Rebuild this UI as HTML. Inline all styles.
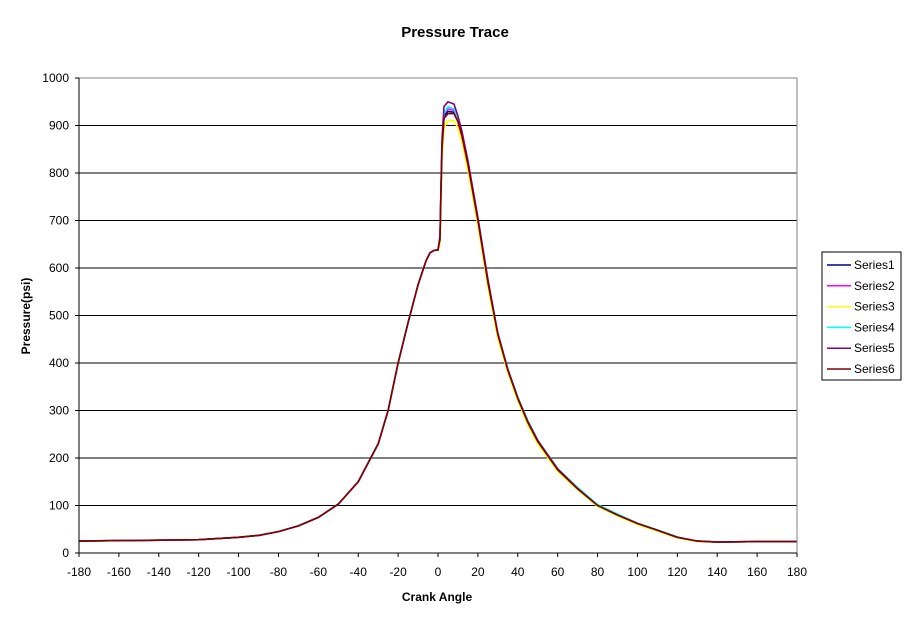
<!DOCTYPE html>
<html><head><meta charset="utf-8"><style>
body{margin:0;background:#fff;width:911px;height:623px;overflow:hidden;font-family:"Liberation Sans",Arial,sans-serif}
</style></head><body>
<svg id="chart" width="911" height="623" xmlns="http://www.w3.org/2000/svg" font-family="Liberation Sans, Arial, sans-serif">
<text x="455" y="37" text-anchor="middle" font-size="15" font-weight="bold">Pressure Trace</text>
<g id="grid"></g>
<g id="series"></g>
<rect x="79" y="78" width="718" height="475" fill="none" stroke="#808080" stroke-width="1"/>
<g id="axes"></g>
<text x="437" y="601" text-anchor="middle" font-size="12" font-weight="bold">Crank Angle</text>
<text x="30" y="316" text-anchor="middle" font-size="12" font-weight="bold" transform="rotate(-90 30 316)">Pressure(psi)</text>
<g id="legend">
<rect x="822" y="252" width="79" height="128" fill="#fff" stroke="#000" stroke-width="1"/>
</g>
</svg>
<script>
const angles = [-180,-160,-140,-120,-100,-90,-80,-70,-60,-50,-40,-30,-25,-20,-15,-10,-6,-4,-2,0,1,1.5,2,3,5,8,10,12,15,20,25,30,35,40,45,50,60,70,80,90,100,110,120,130,140,160,180];
const series1 = [25,26,27,28,33,37,45,57,75,103,150,230,300,400,485,565,615,632,637,638,660,760,850,920,930,928,910,880,820,700,570,460,385,325,275,235,175,135,100,80,62,48,33,25,23,24,24];
const series2 = [25,26,27,28,33,37,45,57,75,103,150,230,300,400,485,565,615,632,637,638,665,770,860,925,935,932,915,885,825,705,575,462,387,327,277,237,177,137,101,81,63,48,33,25,23,24,24];
const series3 = [25,26,27,28,33,37,45,57,75,103,150,230,300,400,485,565,615,632,637,638,650,740,830,895,910,910,895,865,805,690,560,452,380,320,270,230,172,133,98,78,60,46,32,24,23,24,24];
const series4 = [25,26,27,28,33,37,45,57,75,103,150,230,300,400,485,565,615,632,637,638,662,765,855,925,940,935,915,882,822,702,572,463,388,328,279,238,178,138,102,82,63,49,34,25,23,24,24];
const series5 = [25,26,27,28,33,37,45,57,75,103,150,230,300,400,485,565,615,632,637,638,668,775,870,940,950,945,920,888,826,706,576,463,387,327,277,237,177,136,100,80,62,48,33,25,23,24,24];
const series6 = [25,26,27,28,33,37,45,57,75,103,150,230,300,400,485,565,615,632,637,638,660,760,850,915,925,925,908,878,818,700,570,460,385,325,275,235,175,135,100,80,62,48,33,25,23,24,24];
const seriesNames = ["Series1","Series2","Series3","Series4","Series5","Series6"];
const seriesColors = ["#000080","#ff00ff","#ffff00","#00ffff","#800080","#800000"];
const allSeries = [series1,series2,series3,series4,series5,series6];
const xTicks = [-180,-160,-140,-120,-100,-80,-60,-40,-20,0,20,40,60,80,100,120,140,160,180];
const yTicks = [0,100,200,300,400,500,600,700,800,900,1000];

const NS="http://www.w3.org/2000/svg";
const X0=79,X1=797,Y0=553,Y1=78;
function xs(v){return X0+(v+180)/360*(X1-X0);}
function ys(v){return Y0-v/1000*(Y0-Y1);}
function mk(tag,attrs,parent){const e=document.createElementNS(NS,tag);for(const k in attrs)e.setAttribute(k,attrs[k]);parent.appendChild(e);return e;}
const grid=document.getElementById('grid'),axes=document.getElementById('axes'),sg=document.getElementById('series'),lg=document.getElementById('legend');
yTicks.forEach(t=>{
  if(t>0&&t<1000){const l=mk('line',{x1:X0,x2:X1,y1:ys(t),y2:ys(t),stroke:'#000','stroke-width':1},grid);
  
  }
  const tk=mk('line',{x1:X0-4,x2:X0,y1:ys(t),y2:ys(t),stroke:'#000'},axes);
  
  
  const tx=mk('text',{x:X0-10,y:ys(t)+4,'text-anchor':'end','font-size':12},axes);
  tx.textContent=t;
  
  
});
xTicks.forEach(t=>{
  const tk=mk('line',{x1:xs(t),x2:xs(t),y1:Y0,y2:Y0+4,stroke:'#000'},axes);
  
  
  const tx=mk('text',{x:xs(t),y:Y0+23,'text-anchor':'middle','font-size':12},axes);
  tx.textContent=t;
  
  
});
mk('line',{x1:X0,x2:X0,y1:Y1,y2:Y0,stroke:'#000'},axes);
mk('line',{x1:X0,x2:X1,y1:Y0,y2:Y0,stroke:'#000'},axes);
allSeries.forEach((s,i)=>{
  const pts=s.map((v,j)=>xs(angles[j]).toFixed(1)+','+ys(v).toFixed(1)).join(' ');
  const p=mk('polyline',{points:pts,fill:'none',stroke:seriesColors[i],'stroke-width':1.6},sg);
  
  
  const y=265+i*20.8;
  const ll=mk('line',{x1:827,x2:851,y1:y,y2:y,stroke:seriesColors[i],'stroke-width':1.5},lg);
  
  
  const lt=mk('text',{x:854,y:y+4,'font-size':12},lg);
  lt.textContent=seriesNames[i];
  
  
});
</script>
</body></html>
